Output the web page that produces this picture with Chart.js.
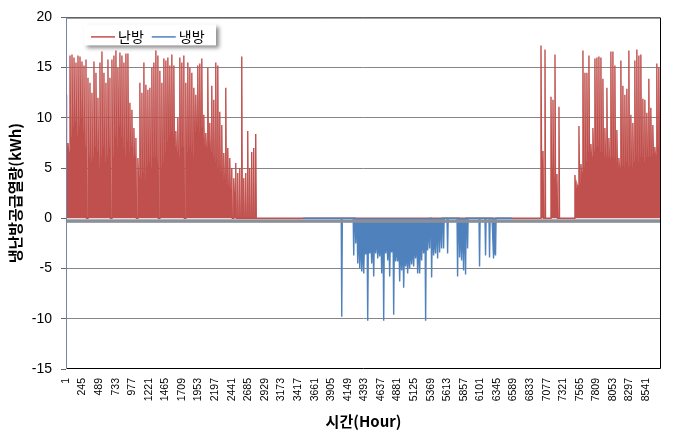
<!DOCTYPE html>
<html>
<head>
<meta charset="utf-8">
<script src="https://cdn.jsdelivr.net/npm/chart.js@4.4.1/dist/chart.umd.min.js"></script>
<style>
  html, body { margin: 0; padding: 0; background: #fff; }
  #wrap { width: 681px; height: 434px; }
</style>
</head>
<body>
<div id="wrap"><canvas id="myChart" width="681" height="434"></canvas></div>
<script>
// series names (legend)
const seriesNames = ["난방", "냉방"];

// x axis labels (hour of year), every 244 h
const xTickHours = [1, 245, 489, 733, 977, 1221, 1465, 1709, 1953, 2197, 2441, 2685,
  2929, 3173, 3417, 3661, 3905, 4149, 4393, 4637, 4881, 5125, 5369, 5613, 5857,
  6101, 6345, 6589, 6833, 7077, 7321, 7565, 7809, 8053, 8297, 8541];

// readings taken about every 29.4 h: a short peak, then the base level until the next one
const sampleStep = 29.4;
const peakWidth = 8;

// heating, start of year (kWh)
const heatStartA = 1;
const heatPeaksA = [12.3, 7.5, 16.2, 16.3, 16.0, 15.5, 16.2, 16.1, 15.6, 15.2,
  15.8, 14.0, 13.5, 12.5, 15.6, 14.5, 12.0, 15.5, 16.6, 14.5,
  13.5, 15.8, 14.0, 15.8, 16.2, 16.7, 15.0, 16.5, 16.2, 15.5,
  16.4, 16.4, 11.5, 10.8, 9.0, 8.0, 6.0, 13.5, 12.5, 15.5,
  13.3, 12.8, 13.0, 15.0, 15.5, 16.7, 16.2, 14.7, 13.5, 15.9,
  15.7, 16.0, 15.2, 16.3, 15.2, 8.7, 10.0, 16.0, 15.5, 16.2,
  13.5, 15.5, 15.0, 14.5, 13.0, 12.3, 15.2, 15.4, 15.9, 10.3,
  8.5, 15.0, 9.5, 13.2, 11.8, 15.5, 15.2, 10.6, 9.3, 6.5,
  13.0, 7.0, 6.0, 5.0, 4.0, 5.5, 4.5, 5.0, 16.1, 4.0,
  4.5, 8.7, 5.0, 6.6, 7.0, 8.4];
const heatLowsA = [7, 6.5, 8, 9, 9.5, 8, 9, 10, 8.5, 7,
  0, 6, 5.5, 6, 7, 6.5, 5, 6, 7, 5.5,
  6, 7, 0, 6, 8, 7, 9, 8, 7, 6,
  7.5, 6.5, 7, 6, 6, 0, 4, 4, 4.5, 4,
  5, 5.5, 5, 6, 6, 5.5, 0, 5, 5.5, 6.5,
  7.5, 8, 8.5, 8, 7, 6.5, 6, 7, 7, 0,
  6.5, 7, 6.5, 6, 8.5, 9, 8.5, 9, 8, 7,
  7, 7.5, 6.5, 6, 5.5, 5, 4.5, 4.5, 4, 4,
  3.5, 3, 2.8, 0, 2.5, 0, 0, 0, 0, 0,
  0, 0, 0, 0, 0, 0];

// heating, end of year (kWh)
const heatStartB = 6964;
const heatPeaksB = [0, 17.2, 6.7, 16.8, 0, 0, 12.1, 11.8, 16.3, 4.4, 11.1,
  0, 0, 0, 0, 0, 0, 0,
  4.3, 3.4, 9.2, 5.4, 16.7, 14.5, 14.5, 16.2, 7.4, 9.0,
  15.9, 16.0, 16.1, 16.0, 13.9, 9.0, 13.0, 8.0, 16.6, 16.6,
  15.2, 8.8, 6.0, 15.7, 13.2, 12.3, 12.9, 16.7, 10.3, 9.5,
  15.7, 16.8, 16.2, 16.3, 11.9, 11.8, 10.5, 13.9, 11.0, 9.3,
  7.1, 15.4, 15.0, 10.0];
const heatLowsB = [0, 5.8, 0, 0, 0, 0, 4.9, 4, 3.5, 0, 0,
  0, 0, 0, 0, 0, 0, 0,
  3, 3.2, 3.5, 4.5, 5, 5.5, 6.5, 6.5, 6, 6.5,
  7, 7.1, 6.5, 6.5, 6, 6, 6, 5.8, 6, 5.8,
  5.5, 5, 5, 5.2, 5, 5.5, 5, 5.2, 5, 5.5,
  6, 5.5, 6, 6, 5.5, 6, 6, 6, 6.2, 6.4,
  6.2, 7, 8, 7.9];

// cooling, summer (kWh, negative)
const coolSpan = [3490, 6570];
const coolStart = 4031;
const coolPeaks = [0, -9.8, 0, 0, 0, 0, 0, -3.7, -2.5, -4.5, -5.0,
  -5.3, -5.5, -3.6, -10.2, -3.5, -4.5, -5.8, -3.5, -4.0, -3.8,
  -5.5, -10.2, -3.5, -4.2, -5.8, -3.4, -9.6, -4.3, -4.3, -6.3,
  -5.2, -6.9, -4.8, -5.5, -5.0, -4.6, -4.8, -4.0, -5.5, -5.5,
  -4.2, -3.5, -10.2, -3.2, -3.0, -5.9, -3.7, -3.5, -4.0, -3.4,
  -3.0, -3.0, 0, -3.5, 0, 0, 0, 0, -5.8, -3.9,
  -4.2, -5.2, -5.6, -3.0, 0, 0, 0, 0, 0, -4.8,
  0, 0, -3.7, 0, -3.9, 0, -4.0, -3.7];
const coolLows = [0, 0, 0, 0, 0, 0, 0, 0, -1, -2.5, -3,
  -3.5, -3.2, -2.8, -3.2, -3, -3, -2.5, -2.5, -3, -2.8,
  -2.2, -2.4, -2.7, -3.2, -2.8, -2.5, -3.2, -3.4, -3.6, -3.8,
  -3.6, -4, -3.8, -4, -3.6, -3.4, -3.2, -3, -3.5, -3.2,
  -2.5, -2.2, -2, -1.5, 0, -2, -2.5, -1.5, -1, -1,
  0, 0, 0, 0, 0, 0, 0, 0, 0, -2,
  -2, -1.5, 0, 0, 0, 0, 0, 0, 0, 0,
  0, 0, 0, 0, 0, 0, -2.8, 0];

const colorHeat = "#C0504D";
const colorCool = "#4F81BD";

// each reading: the peak hour, then its base level held until the next peak
const buildPoints = (start, peaks, lows) => {
  const points = [];
  peaks.forEach((v, i) => {
    const h = start + i * sampleStep;
    points.push({ x: h, y: v });
    points.push({ x: h + peakWidth, y: lows[i] });
    points.push({ x: h + sampleStep - peakWidth, y: lows[i] });
  });
  return points;
};

const heatData = buildPoints(heatStartA, heatPeaksA, heatLowsA)
  .concat(buildPoints(heatStartB, heatPeaksB, heatLowsB));
const coolData = [{ x: coolSpan[0], y: 0 }]
  .concat(buildPoints(coolStart, coolPeaks, coolLows))
  .concat([{ x: coolSpan[1], y: 0 }]);

// axis line at 0 (thick gray) and the plot frame
const frameLines = {
  id: "frameLines",
  afterDatasetsDraw(chart) {
    const { ctx, chartArea: a, scales } = chart;
    const y0 = scales.y.getPixelForValue(0);
    ctx.save();
    ctx.fillStyle = "#8a9099";
    ctx.fillRect(a.left, y0 + 1, a.right - a.left, 3.5);
    ctx.strokeStyle = "#000";
    ctx.lineWidth = 1;
    ctx.beginPath();
    ctx.moveTo(a.left, a.top + 0.5);
    ctx.lineTo(a.right - 0.5, a.top + 0.5);
    ctx.lineTo(a.right - 0.5, a.bottom - 0.5);
    ctx.lineTo(a.left, a.bottom - 0.5);
    ctx.stroke();
    ctx.strokeStyle = "#7388a8";
    ctx.beginPath();
    ctx.moveTo(a.left + 0.5, a.top);
    ctx.lineTo(a.left + 0.5, a.bottom);
    ctx.stroke();
    ctx.restore();
  }
};

// legend box inside the plot, with shadow
const legendBox = {
  id: "legendBox",
  afterDraw(chart) {
    const { ctx, chartArea: a } = chart;
    const x = a.left + 18, y = a.top + 7, w = 132, h = 21;
    ctx.save();
    ctx.shadowColor = "rgba(0,0,0,0.45)";
    ctx.shadowBlur = 4;
    ctx.shadowOffsetX = 3;
    ctx.shadowOffsetY = 3;
    ctx.fillStyle = "#fff";
    ctx.fillRect(x, y, w, h);
    ctx.restore();

    ctx.save();
    ctx.font = "14px 'Noto Sans CJK KR'";
    ctx.textBaseline = "middle";
    ctx.fillStyle = "#000";
    let cx = x + 7;
    const cy = y + h / 2 + 2;
    chart.data.datasets.slice().sort((p, q) => p.legendIndex - q.legendIndex).forEach((ds) => {
      ctx.strokeStyle = ds.borderColor;
      ctx.lineWidth = 1.5;
      ctx.beginPath();
      ctx.moveTo(cx, cy);
      ctx.lineTo(cx + 24, cy);
      ctx.stroke();
      cx += 27;
      ctx.fillText(ds.label, cx, cy);
      cx += ctx.measureText(ds.label).width + 8;
    });
    ctx.restore();
  }
};

Chart.defaults.font.family = "'Liberation Sans', Arial, sans-serif";
Chart.defaults.color = "#000";

const config = {
  type: "line",
  data: {
    datasets: [
      {
        label: seriesNames[1],
        legendIndex: 1,
        data: coolData,
        borderColor: colorCool,
        backgroundColor: colorCool,
        borderWidth: 1.4,
        fill: "origin",
        pointRadius: 0,
        tension: 0,
        order: 0
      },
      {
        label: seriesNames[0],
        legendIndex: 0,
        data: heatData,
        borderColor: colorHeat,
        backgroundColor: colorHeat,
        borderWidth: 1.4,
        fill: "origin",
        pointRadius: 0,
        tension: 0,
        order: 1
      }
    ]
  },
  options: {
    responsive: false,
    animation: false,
    layout: { padding: { top: 11, right: 20, left: 0, bottom: 4 } },
    plugins: {
      legend: { display: false },
      tooltip: { enabled: false }
    },
    scales: {
      x: {
        type: "linear",
        min: 1,
        max: 8760,
        afterBuildTicks: (scale) => {
          scale.ticks = xTickHours.map((v) => ({ value: v }));
        },
        afterFit: (scale) => { scale.height = 61; },
        grid: { display: false, drawTicks: false },
        border: { display: false },
        ticks: {
          autoSkip: false,
          minRotation: 90,
          maxRotation: 90,
          padding: 9,
          font: { size: 10.5 },
          callback: (v) => String(v)
        },
        title: {
          display: true,
          text: "시간(Hour)",
          font: { family: "'Noto Sans CJK KR'", size: 15, weight: "bold" },
          padding: { top: 0, bottom: 0 }
        }
      },
      y: {
        min: -15,
        max: 20,
        afterFit: (scale) => { scale.width = 66; },
        ticks: { stepSize: 5, padding: 9, font: { size: 14 } },
        grid: {
          color: (c) => ([0, 20, -15].includes(c.tick.value) ? "rgba(0,0,0,0)" : "#868686"),
          tickColor: "#666",
          tickLength: 5
        },
        border: { display: false },
        title: {
          display: true,
          text: "냉난방공급열량(kWh)",
          font: { family: "'Noto Sans CJK KR'", size: 15, weight: "bold" },
          padding: { top: 6, bottom: 0 }
        }
      }
    }
  },
  plugins: [frameLines, legendBox]
};

new Chart(document.getElementById("myChart"), config);
</script>
</body>
</html>
